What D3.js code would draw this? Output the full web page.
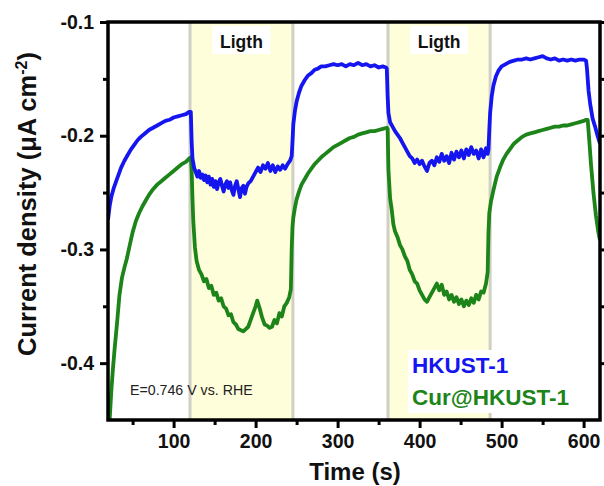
<!DOCTYPE html>
<html>
<head>
<meta charset="utf-8">
<script src="https://cdn.jsdelivr.net/npm/d3@7"></script>
<style>
  html, body { margin: 0; padding: 0; background: #fff; }
  svg { display: block; }
  text { font-family: "Liberation Sans", Arial, Helvetica, sans-serif; }
</style>
</head>
<body>
<svg id="chart" width="604" height="486"></svg>
<script>
// ---------------- data ----------------
const xTicks = [100, 200, 300, 400, 500, 600];
const xMinorTicks = [50, 150, 250, 350, 450, 550];
const yTicks = [-0.1, -0.2, -0.3, -0.4];
const yMinorTicks = [-0.15, -0.25, -0.35];
const lightPeriods = [[120, 245.5], [361.5, 486]];
const lightLabel = "Ligth";
const seriesNames = ["HKUST-1", "Cur@HKUST-1"];

const hkustTime = [20,22,24,27,30,33,36,40,44,48,52,56,60,65,70,75,80,85,90,95,100,105,110,115,119,121,
  122,123,125,127,129,131,133,135,137,139,141,143,145,147,149,151,153,155,157,159,161,163,165,167,169,171,173,175,177,179,181,183,185,187,189,191,194,197,200,203,206,209,212,215,218,221,224,227,230,233,236,239,242,244,
  245,246,248,250,253,256,260,264,268,272,276,280,285,290,295,300,305,310,315,320,325,330,335,340,345,350,355,359,360,
  361,362,364,367,370,373,376,379,382,385,388,391,394,397,400,403,406,409,412,415,418,421,424,427,430,433,436,439,442,445,448,451,454,457,460,463,466,469,472,475,478,481,483,484,
  485,486,488,490,493,496,500,505,510,515,520,525,530,535,540,545,550,555,560,565,570,575,580,585,590,595,600,603,604,
  606,608,611,614,617,620];
const hkustCurrent = [-0.274,-0.262,-0.254,-0.246,-0.240,-0.234,-0.228,-0.222,-0.217,-0.212,-0.208,-0.204,-0.201,-0.198,-0.195,-0.193,-0.191,-0.189,-0.187,-0.186,-0.184,-0.183,-0.182,-0.181,-0.179,-0.179,
  -0.205,-0.220,-0.228,-0.232,-0.236,-0.231,-0.237,-0.234,-0.239,-0.235,-0.241,-0.236,-0.243,-0.238,-0.245,-0.240,-0.247,-0.241,-0.238,-0.244,-0.249,-0.243,-0.240,-0.246,-0.241,-0.248,-0.252,-0.244,-0.240,-0.247,-0.254,-0.246,-0.244,-0.251,-0.245,-0.242,-0.240,-0.236,-0.232,-0.228,-0.232,-0.226,-0.229,-0.224,-0.231,-0.226,-0.232,-0.227,-0.230,-0.226,-0.229,-0.225,-0.222,-0.218,
  -0.205,-0.190,-0.178,-0.170,-0.162,-0.156,-0.151,-0.147,-0.145,-0.142,-0.141,-0.139,-0.139,-0.138,-0.137,-0.138,-0.137,-0.139,-0.137,-0.138,-0.136,-0.138,-0.137,-0.139,-0.138,-0.140,-0.139,-0.140,-0.141,
  -0.165,-0.180,-0.188,-0.192,-0.196,-0.199,-0.202,-0.206,-0.210,-0.214,-0.218,-0.220,-0.224,-0.221,-0.225,-0.222,-0.227,-0.231,-0.224,-0.222,-0.226,-0.219,-0.223,-0.216,-0.222,-0.218,-0.224,-0.215,-0.221,-0.214,-0.219,-0.213,-0.220,-0.212,-0.217,-0.210,-0.216,-0.213,-0.220,-0.212,-0.219,-0.211,-0.216,-0.212,
  -0.195,-0.180,-0.165,-0.156,-0.148,-0.143,-0.139,-0.137,-0.135,-0.134,-0.133,-0.133,-0.132,-0.133,-0.132,-0.131,-0.130,-0.132,-0.133,-0.132,-0.134,-0.133,-0.134,-0.133,-0.134,-0.133,-0.133,-0.134,-0.140,
  -0.160,-0.172,-0.185,-0.192,-0.200,-0.207];

const curTime = [20,22,24,26,28,31,34,37,40,43,46,50,54,58,62,66,70,75,80,85,90,95,100,105,110,115,119,121,
  122,123,124,126,128,131,134,137,140,143,146,149,152,155,158,161,164,167,170,173,176,179,182,185,188,191,194,197,200,202,205,208,211,214,217,220,223,226,229,232,235,238,241,243,244,245,
  246,248,250,253,256,260,264,268,272,276,280,285,290,295,300,305,310,315,320,325,330,335,340,345,350,355,360,361,
  362,364,366,368,370,373,376,379,382,385,388,391,394,397,400,403,406,409,412,415,418,421,424,427,430,433,436,439,442,445,448,451,454,457,460,463,466,469,472,475,478,481,483,484,
  485,487,490,494,498,502,506,510,515,520,525,530,535,540,545,550,555,560,565,570,575,580,585,590,595,600,603,605,
  607,609,612,615,618,620];
const curCurrent = [-0.470,-0.450,-0.425,-0.405,-0.388,-0.365,-0.340,-0.325,-0.316,-0.308,-0.298,-0.285,-0.275,-0.268,-0.262,-0.257,-0.252,-0.247,-0.243,-0.240,-0.237,-0.234,-0.231,-0.228,-0.225,-0.223,-0.220,-0.219,
  -0.230,-0.255,-0.275,-0.298,-0.310,-0.318,-0.322,-0.328,-0.326,-0.334,-0.332,-0.340,-0.338,-0.345,-0.343,-0.350,-0.352,-0.358,-0.357,-0.364,-0.366,-0.370,-0.371,-0.372,-0.370,-0.368,-0.362,-0.356,-0.350,-0.345,-0.352,-0.360,-0.366,-0.367,-0.369,-0.368,-0.362,-0.365,-0.356,-0.359,-0.350,-0.347,-0.342,-0.335,-0.300,-0.280,
  -0.272,-0.263,-0.256,-0.249,-0.243,-0.238,-0.233,-0.229,-0.225,-0.222,-0.219,-0.216,-0.213,-0.210,-0.208,-0.206,-0.204,-0.202,-0.201,-0.199,-0.198,-0.197,-0.196,-0.196,-0.195,-0.194,-0.193,-0.194,
  -0.230,-0.255,-0.265,-0.278,-0.284,-0.289,-0.296,-0.300,-0.306,-0.310,-0.318,-0.322,-0.328,-0.330,-0.336,-0.340,-0.344,-0.346,-0.342,-0.338,-0.334,-0.330,-0.336,-0.331,-0.340,-0.337,-0.344,-0.340,-0.346,-0.342,-0.348,-0.344,-0.350,-0.345,-0.349,-0.343,-0.347,-0.340,-0.344,-0.337,-0.338,-0.330,-0.320,-0.285,
  -0.268,-0.258,-0.248,-0.236,-0.228,-0.221,-0.216,-0.212,-0.207,-0.204,-0.201,-0.199,-0.198,-0.197,-0.196,-0.195,-0.194,-0.193,-0.192,-0.192,-0.191,-0.191,-0.190,-0.189,-0.188,-0.187,-0.186,-0.186,
  -0.205,-0.225,-0.250,-0.270,-0.285,-0.292];

// ---------------- layout ----------------
const svg = d3.select("#chart");
const M = { left: 108, right: 600, top: 22, bottom: 420 };
const x = d3.scaleLinear().domain([20, 620]).range([M.left, M.right]);
const y = d3.scaleLinear().domain([-0.45, -0.1]).range([M.bottom, M.top]);

const blue = "#1515f0";
const green = "#1c8419";

svg.append("defs").append("clipPath").attr("id", "plotclip")
  .append("rect").attr("x", M.left).attr("y", M.top)
  .attr("width", M.right - M.left).attr("height", M.bottom - M.top);

// light bands
const bands = svg.append("g");
lightPeriods.forEach(p => {
  bands.append("rect")
    .attr("x", x(p[0])).attr("y", M.top)
    .attr("width", x(p[1]) - x(p[0])).attr("height", M.bottom - M.top)
    .attr("fill", "#fefedb");
  p.forEach(v => {
    bands.append("line")
      .attr("x1", x(v)).attr("x2", x(v))
      .attr("y1", M.top).attr("y2", M.bottom)
      .attr("stroke", "#cfcfc4").attr("stroke-width", 3);
  });
  const cx = x((p[0] + p[1]) / 2);
  bands.append("rect").attr("x", cx - 29).attr("y", 26).attr("width", 58).attr("height", 28).attr("fill", "#fff");
  bands.append("text").attr("x", cx).attr("y", 48).attr("text-anchor", "middle")
    .attr("font-size", "17.5px").attr("font-weight", "bold").attr("fill", "#111").text(lightLabel);
});

// lines
const line = d3.line().x(d => x(d[0])).y(d => y(d[1]));
const lines = svg.append("g").attr("clip-path", "url(#plotclip)");
lines.append("path").datum(d3.zip(curTime, curCurrent))
  .attr("d", line).attr("fill", "none").attr("stroke", green)
  .attr("stroke-width", 3.8).attr("stroke-linejoin", "round");
lines.append("path").datum(d3.zip(hkustTime, hkustCurrent))
  .attr("d", line).attr("fill", "none").attr("stroke", blue)
  .attr("stroke-width", 3.8).attr("stroke-linejoin", "round");

// annotation
svg.append("text").attr("x", 130).attr("y", 395)
  .attr("font-size", "14.2px").attr("fill", "#222").text("E=0.746 V vs. RHE");

// legend
svg.append("rect").attr("x", 408).attr("y", 350).attr("width", 172).attr("height", 63).attr("fill", "#fff");
svg.append("text").attr("x", 412).attr("y", 373).attr("font-size", "22.5px").attr("font-weight", "bold")
  .attr("fill", blue).text(seriesNames[0]);
svg.append("text").attr("x", 412).attr("y", 405).attr("font-size", "22.5px").attr("font-weight", "bold")
  .attr("fill", green).text(seriesNames[1]);

// axes
const axStyle = g => {
  g.select(".domain").remove();
  g.selectAll(".tick line").attr("stroke", "#000").attr("stroke-width", 3);
  g.selectAll(".tick text").attr("font-size", "19.5px").attr("font-weight", "bold").attr("fill", "#111")
    .attr("font-family", "'Liberation Sans', Arial, sans-serif");
};
svg.append("g").attr("transform", `translate(0,${M.bottom})`)
  .call(d3.axisBottom(x).tickValues(xTicks).tickFormat(d3.format("d")).tickSize(8).tickPadding(6))
  .call(axStyle);
svg.append("g").attr("transform", `translate(0,${M.bottom})`)
  .call(d3.axisBottom(x).tickValues(xMinorTicks).tickFormat("").tickSize(5))
  .call(axStyle);
svg.append("g").attr("transform", `translate(${M.left},0)`)
  .call(d3.axisLeft(y).tickValues(yTicks).tickFormat(d => d.toFixed(1)).tickSize(8).tickPadding(6))
  .call(axStyle);
svg.append("g").attr("transform", `translate(${M.left},0)`)
  .call(d3.axisLeft(y).tickValues(yMinorTicks).tickFormat("").tickSize(5))
  .call(axStyle);
svg.append("g").attr("transform", `translate(${M.right},0)`)
  .call(d3.axisRight(y).tickValues(yTicks.concat(yMinorTicks)).tickFormat("").tickSize(4))
  .call(axStyle);

// frame
svg.append("rect").attr("x", M.left).attr("y", M.top)
  .attr("width", M.right - M.left).attr("height", M.bottom - M.top)
  .attr("fill", "none").attr("stroke", "#000").attr("stroke-width", 3.5);

// axis titles
svg.append("text").attr("x", (M.left + M.right) / 2 + 1).attr("y", 480)
  .attr("text-anchor", "middle").attr("font-size", "24px").attr("font-weight", "bold")
  .attr("fill", "#111").text("Time (s)");
const yt = svg.append("text").attr("transform", "translate(36,204) rotate(-90)")
  .attr("text-anchor", "middle").attr("font-size", "25.5px").attr("font-weight", "bold").attr("fill", "#111");
yt.append("tspan").text("Current density (μA cm");
yt.append("tspan").attr("dy", -9).attr("font-size", "16px").text("-2");
yt.append("tspan").attr("dy", 9).text(")");
</script>
</body>
</html>
